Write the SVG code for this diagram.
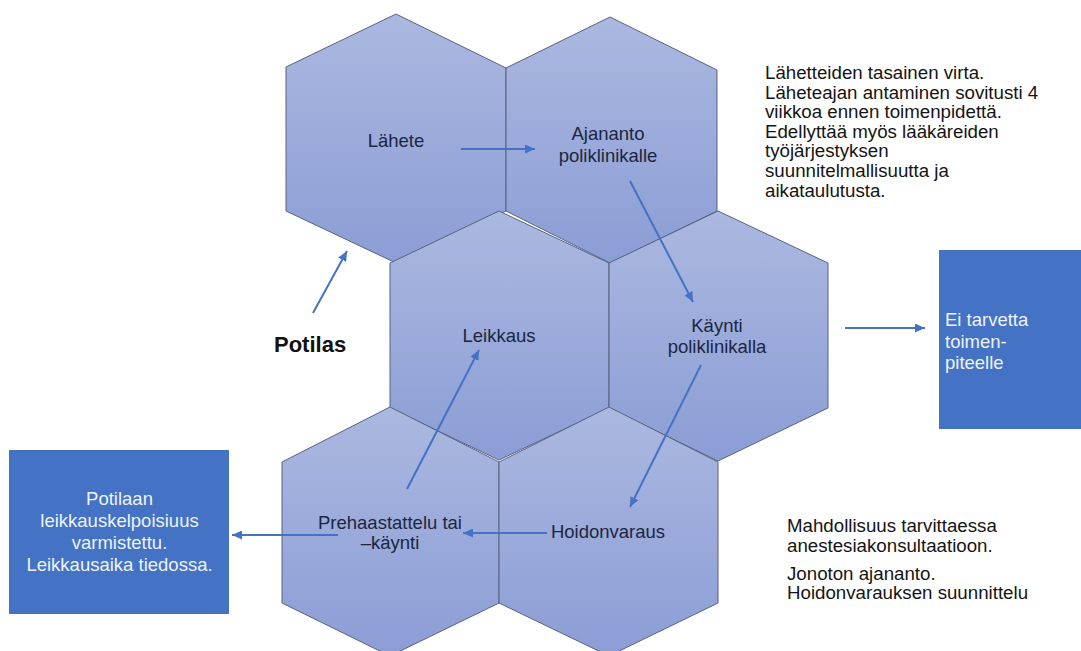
<svg xmlns="http://www.w3.org/2000/svg" width="1081" height="651" viewBox="0 0 1081 651">
<defs>
<linearGradient id="hexfill" x1="0" y1="0" x2="0" y2="1">
<stop offset="0" stop-color="#abb8e0"/>
<stop offset="1" stop-color="#8b9dd5"/>
</linearGradient>
<marker id="ah" markerUnits="userSpaceOnUse" markerWidth="11" markerHeight="9" refX="10" refY="4.5" orient="auto">
<path d="M0,0 L10,4.5 L0,9 Z" fill="#4472c4"/>
</marker>
<style>
.hex{fill:url(#hexfill);stroke:#56637f;stroke-width:1}
.ht{font-family:"Liberation Sans",Arial,sans-serif;font-size:18.5px;fill:#1c2640;text-anchor:middle}
.nt{font-family:"Liberation Sans",Arial,sans-serif;font-size:18.7px;fill:#141414}
.box{fill:#4472c4}
.bt{font-family:"Liberation Sans",Arial,sans-serif;font-size:18.5px;fill:#eef2fa}
.conn{stroke:#4472c4;stroke-width:2;fill:none;marker-end:url(#ah)}
</style>
</defs>
<rect width="1081" height="651" fill="#ffffff"/>
<g id="node-lahete">
<polygon class="hex" points="396,14 506,68 506,211 396,263 286,211 286,67"/>
<text class="ht" x="396" y="147">Lähete</text>
</g>
<g id="node-ajananto">
<polygon class="hex" points="610,17 717,70 717,211 610,263 506,211 506,68"/>
<text class="ht" x="608" y="140">Ajananto</text>
<text class="ht" x="608" y="162">poliklinikalle</text>
</g>
<g id="node-leikkaus">
<polygon class="hex" points="499,211 609,263 609,408 499,460 390,408 390,263"/>
<text class="ht" x="499" y="342">Leikkaus</text>
</g>
<g id="node-kaynti">
<polygon class="hex" points="718,211 828,263 828,408 718,461 609,408 609,263"/>
<text class="ht" x="717" y="332">Käynti</text>
<text class="ht" x="717" y="353">poliklinikalla</text>
</g>
<g id="node-prehaastattelu">
<polygon class="hex" points="390,407 499,462 499,603 390,656 282,603 282,462"/>
<text class="ht" x="390" y="529">Prehaastattelu tai</text>
<text class="ht" x="390" y="549">–käynti</text>
</g>
<g id="node-hoidonvaraus">
<polygon class="hex" points="609,407 718,462 718,603 609,656 499,603 499,462"/>
<text class="ht" x="608" y="538">Hoidonvaraus</text>
</g>
<g id="node-potilas">
<text x="274" y="352" style="font-family:'Liberation Sans',Arial,sans-serif;font-size:22px;font-weight:bold;fill:#111">Potilas</text>
</g>
<g id="node-varmistettu">
<rect class="box" x="9" y="450" width="220" height="164"/>
<text class="bt" text-anchor="middle" x="119.5" y="505">Potilaan</text>
<text class="bt" text-anchor="middle" x="119.5" y="527">leikkauskelpoisiuus</text>
<text class="bt" text-anchor="middle" x="119.5" y="549">varmistettu.</text>
<text class="bt" text-anchor="middle" x="119.5" y="571">Leikkausaika tiedossa.</text>
</g>
<g id="node-ei-tarvetta">
<rect class="box" x="939" y="250" width="142" height="179"/>
<text class="bt" x="945" y="326">Ei tarvetta</text>
<text class="bt" x="945" y="348">toimen-</text>
<text class="bt" x="945" y="369">piteelle</text>
</g>
<g id="note-top">
<text class="nt" x="765" y="79">Lähetteiden tasainen virta.</text>
<text class="nt" x="765" y="98.6">Läheteajan antaminen sovitusti 4</text>
<text class="nt" x="765" y="118.2">viikkoa ennen toimenpidettä.</text>
<text class="nt" x="765" y="137.8">Edellyttää myös lääkäreiden</text>
<text class="nt" x="765" y="157.4">työjärjestyksen</text>
<text class="nt" x="765" y="177">suunnitelmallisuutta ja</text>
<text class="nt" x="765" y="196.6">aikataulutusta.</text>
</g>
<g id="note-bottom">
<text class="nt" x="787" y="532">Mahdollisuus tarvittaessa</text>
<text class="nt" x="787" y="552">anestesiakonsultaatioon.</text>
<text class="nt" x="787" y="580">Jonoton ajananto.</text>
<text class="nt" x="787" y="599">Hoidonvarauksen suunnittelu</text>
</g>
<g id="connectors">
<line class="conn" x1="313" y1="313" x2="347" y2="251"/>
<line class="conn" x1="461" y1="149" x2="535" y2="149"/>
<line class="conn" x1="630" y1="181" x2="693" y2="302"/>
<line class="conn" x1="701" y1="365" x2="630" y2="507"/>
<line class="conn" x1="547" y1="533" x2="463" y2="533"/>
<line class="conn" x1="407" y1="489" x2="479" y2="350"/>
<line class="conn" x1="338" y1="535" x2="232" y2="535"/>
<line class="conn" x1="845" y1="328" x2="925" y2="328"/>
</g>
</svg>
